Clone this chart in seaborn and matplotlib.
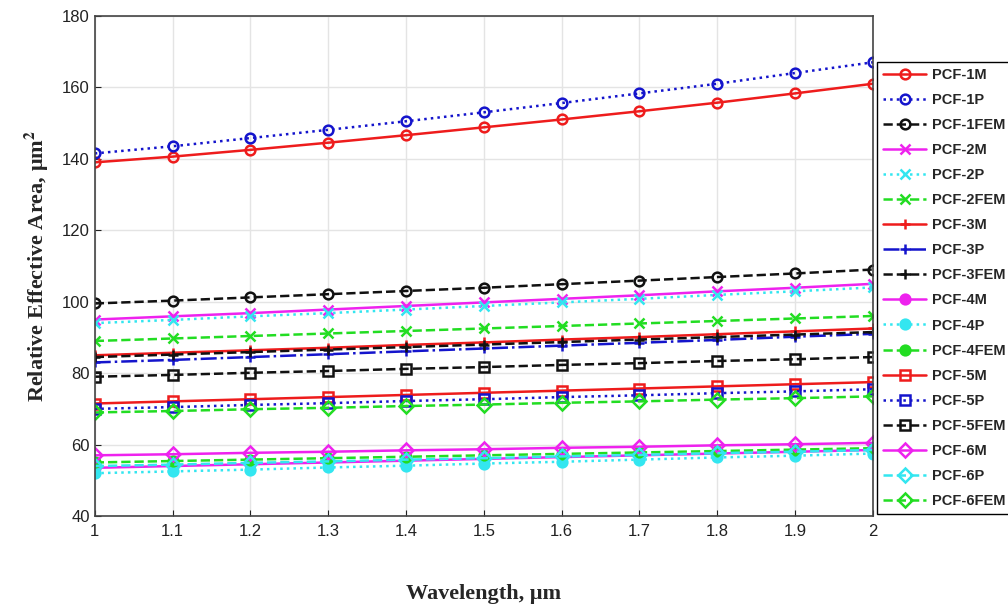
import matplotlib
matplotlib.use("Agg")
import matplotlib.pyplot as plt
import seaborn as sns

wavelength = [1.0, 1.1, 1.2, 1.3, 1.4, 1.5, 1.6, 1.7, 1.8, 1.9, 2.0]

pcf_1m = [139.0, 140.6, 142.5, 144.5, 146.6, 148.8, 151.0, 153.3, 155.7, 158.3, 161.0]
pcf_1p = [141.5, 143.5, 145.8, 148.1, 150.5, 153.0, 155.6, 158.3, 161.0, 164.0, 167.0]
pcf_1fem = [99.5, 100.3, 101.2, 102.1, 103.0, 103.9, 104.9, 105.9, 106.9, 107.9, 109.0]
pcf_2m = [95.0, 95.9, 96.8, 97.8, 98.8, 99.8, 100.8, 101.8, 102.9, 103.9, 105.0]
pcf_2p = [94.0, 94.9, 95.9, 96.8, 97.8, 98.8, 99.8, 100.8, 101.9, 102.9, 104.0]
pcf_2fem = [89.0, 89.7, 90.4, 91.1, 91.8, 92.5, 93.2, 93.9, 94.6, 95.3, 96.0]
pcf_3m = [85.0, 85.7, 86.4, 87.1, 87.9, 88.6, 89.4, 90.1, 90.9, 91.7, 92.5]
pcf_3p = [83.0, 83.7, 84.5, 85.3, 86.1, 86.9, 87.7, 88.5, 89.3, 90.2, 91.0]
pcf_3fem = [84.5, 85.2, 85.9, 86.6, 87.3, 88.0, 88.7, 89.4, 90.1, 90.8, 91.5]
pcf_4m = [53.5, 54.0, 54.5, 55.0, 55.5, 56.0, 56.5, 57.0, 57.5, 58.0, 58.5]
pcf_4p = [52.0, 52.5, 53.0, 53.6, 54.1, 54.7, 55.2, 55.8, 56.4, 56.9, 57.5]
pcf_4fem = [55.0, 55.4, 55.8, 56.2, 56.6, 57.0, 57.4, 57.8, 58.2, 58.6, 59.0]
pcf_5m = [71.5, 72.1, 72.7, 73.3, 73.9, 74.5, 75.1, 75.7, 76.3, 76.9, 77.5]
pcf_5p = [70.0, 70.5, 71.1, 71.6, 72.2, 72.7, 73.3, 73.8, 74.4, 74.9, 75.5]
pcf_5fem = [79.0, 79.5, 80.1, 80.6, 81.2, 81.7, 82.3, 82.8, 83.4, 83.9, 84.5]
pcf_6m = [57.0, 57.3, 57.7, 58.0, 58.4, 58.7, 59.1, 59.4, 59.8, 60.1, 60.5]
pcf_6p = [54.0, 54.4, 54.9, 55.3, 55.8, 56.2, 56.7, 57.1, 57.6, 58.0, 58.5]
pcf_6fem = [69.0, 69.4, 69.9, 70.3, 70.8, 71.2, 71.7, 72.1, 72.6, 73.0, 73.5]

RED, BLUE, BLACK = "#ee1c1c", "#1414cc", "#111111"
MAG, CYAN, GREEN = "#ee22ee", "#33e6f0", "#22dd22"

# (label, values, color, linestyle, marker, filled)
series = [
    ("PCF-1M", pcf_1m, RED, "-", "o", False),
    ("PCF-1P", pcf_1p, BLUE, ":", "o", False),
    ("PCF-1FEM", pcf_1fem, BLACK, "--", "o", False),
    ("PCF-2M", pcf_2m, MAG, "-", "x", True),
    ("PCF-2P", pcf_2p, CYAN, ":", "x", True),
    ("PCF-2FEM", pcf_2fem, GREEN, "--", "x", True),
    ("PCF-3M", pcf_3m, RED, "-", "+", True),
    ("PCF-3P", pcf_3p, BLUE, "-.", "+", True),
    ("PCF-3FEM", pcf_3fem, BLACK, "--", "+", True),
    ("PCF-4M", pcf_4m, MAG, "-", "o", True),
    ("PCF-4P", pcf_4p, CYAN, ":", "o", True),
    ("PCF-4FEM", pcf_4fem, GREEN, "--", "o", True),
    ("PCF-5M", pcf_5m, RED, "-", "s", False),
    ("PCF-5P", pcf_5p, BLUE, ":", "s", False),
    ("PCF-5FEM", pcf_5fem, BLACK, "--", "s", False),
    ("PCF-6M", pcf_6m, MAG, "-", "D", False),
    ("PCF-6P", pcf_6p, CYAN, "--", "D", False),
    ("PCF-6FEM", pcf_6fem, GREEN, "--", "D", False),
]

sns.set_style("whitegrid")
plt.rcParams["font.family"] = ["Liberation Sans", "DejaVu Sans"]
plt.rcParams["mathtext.fontset"] = "stix"

fig = plt.figure(figsize=(10.08, 6.10), dpi=100)
ax = fig.add_axes([0.094, 0.154, 0.772, 0.820])

for label, vals, color, ls, mk, filled in series:
    sns.lineplot(x=wavelength, y=vals, ax=ax, color=color, linestyle=ls,
                 linewidth=1.8, marker=mk, markersize=7, markeredgewidth=1.8,
                 markeredgecolor=color,
                 markerfacecolor=color if filled else "none", label=label)

ax.set_xlim(1, 2)
ax.set_ylim(40, 180)
ax.set_xticks(wavelength)
ax.set_xticklabels(["1", "1.1", "1.2", "1.3", "1.4", "1.5", "1.6", "1.7", "1.8", "1.9", "2"])
ax.set_yticks([40, 60, 80, 100, 120, 140, 160, 180])
ax.tick_params(labelsize=12, colors="#222222", length=4, direction="in",
               bottom=True, left=True)
ax.tick_params(axis="x", pad=6)
ax.grid(True, color="#e4e4e4", linewidth=1)
for sp in ax.spines.values():
    sp.set_color("#444444")
    sp.set_linewidth(1.2)

ax.set_xlabel("Wavelength, μm", fontsize=16, fontweight="bold",
              family="Liberation Serif", labelpad=32)
ax.set_ylabel("Relative Effective Area, μm$^{\\mathbf{2}}$", fontsize=16,
              fontweight="bold", family="Liberation Serif", labelpad=8)

leg = ax.legend(loc="upper left", bbox_to_anchor=(1.005, 0.908), frameon=True,
                fancybox=False, edgecolor="black", framealpha=1,
                prop={"weight": "bold", "size": 10.5}, labelspacing=0.76,
                handlelength=3.0, handletextpad=0.4, borderaxespad=0)
leg.get_frame().set_linewidth(1.0)

fig.savefig("out.png", dpi=100)
